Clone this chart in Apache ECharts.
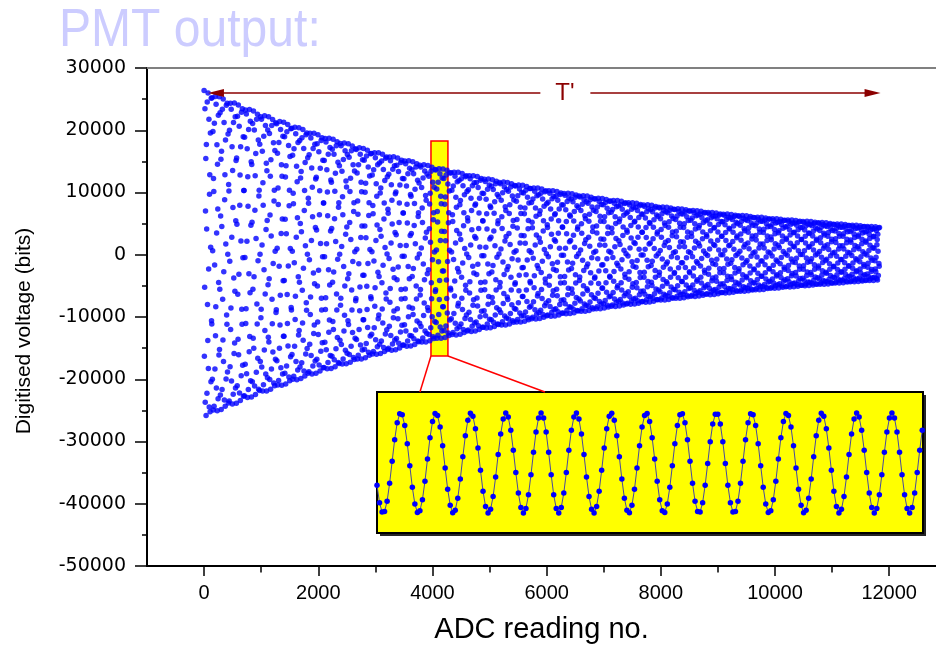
<!DOCTYPE html>
<html>
<head>
<meta charset="utf-8">
<script src="https://cdn.jsdelivr.net/npm/echarts@6/dist/echarts.min.js"></script>
<style>
  html, body { margin: 0; padding: 0; background: #fff; }
  #main { width: 936px; height: 647px; }
</style>
</head>
<body>
<div id="main"></div>
<script>
// ---- values ----
// half-height of the decaying band (bits) at some ADC readings
const envX = [0, 1000, 2000, 3000, 4000, 5000, 6000, 7000, 8000, 9000, 10000, 11000, 11830];
const envAmp = [26200, 22400, 19100, 16300, 13950, 11950, 10250, 8800, 7550, 6500, 5600, 4850, 4250];
const envOffset = 200;          // band centre sits a bit above 0
const periodSamples = 13.95;    // readings per oscillation
const plotStep = 5;             // every 5th reading is plotted in the main panel
const lastReading = 11830;

// axis ticks
const xMajorTicks = [0, 2000, 4000, 6000, 8000, 10000, 12000];
const xMinorTicks = [1000, 3000, 5000, 7000, 9000, 11000];

// zoom window (yellow bar) and the inset
const zoomBox = [[3974, 18270], [4271, -16260]];
const insetTop = -22050;
const insetLinkX = [3781, 5970];
const insetPeriod = 13.9;
const insetFirstPeak = 9.4;     // sample index of first peak in the inset
const insetCount = 217;

// T' arrow
const arrowY = 25980;
const arrowLeft = [5890, 208];
const arrowRight = [6766, 11709];
const arrowLabelX = 6320;

function envAt(x) {
  for (let i = 1; i < envX.length; i++) {
    if (x <= envX[i]) {
      const t = (x - envX[i - 1]) / (envX[i] - envX[i - 1]);
      return envAmp[i - 1] + t * (envAmp[i] - envAmp[i - 1]);
    }
  }
  return envAmp[envAmp.length - 1];
}

// sampled readings for the main panel
const mainPoints = [];
for (let x = 0; x <= lastReading; x += plotStep) {
  mainPoints.push([x, envOffset + envAt(x) * Math.cos(2 * Math.PI * x / periodSamples)]);
}
// inset: consecutive readings, normalised
const insetPoints = [];
for (let n = 0; n < insetCount; n++) {
  insetPoints.push([n, Math.cos(2 * Math.PI * (n - insetFirstPeak) / insetPeriod)]);
}

const chart = echarts.init(document.getElementById('main'));
const fmt = v => String(v);
const insetBox = { left: 377, top: 392, width: 546, height: 141 };

chart.setOption({
  animation: false,
  backgroundColor: '#fff',
  grid: [
    { left: 147, top: 68, right: 0, bottom: 81, containLabel: false, outerBoundsMode: 'none' },
    {
      left: insetBox.left, top: insetBox.top, width: insetBox.width, height: insetBox.height, show: true,
      backgroundColor: '#ffff00', borderColor: '#000', borderWidth: 2, z: 1,
      outerBoundsMode: 'none'
    }
  ],
  xAxis: [
    {
      type: 'value', gridIndex: 0, min: -1000, max: 12820, position: 'bottom',
      axisLine: { onZero: false, lineStyle: { color: '#000', width: 2 } },
      axisTick: { customValues: xMajorTicks, length: 10, lineStyle: { color: '#000', width: 1.5 } },
      axisLabel: { customValues: xMajorTicks, formatter: fmt, margin: 17, fontSize: 20,
        fontFamily: '"Liberation Sans", Arial, sans-serif', color: '#000' },
      splitLine: { show: false },
      name: 'ADC reading no.', nameLocation: 'middle', nameGap: 49,
      nameTextStyle: { fontSize: 29, fontFamily: '"Liberation Sans", Arial, sans-serif', color: '#000' }
    },
    {
      type: 'value', gridIndex: 0, min: -1000, max: 12820, position: 'bottom',
      axisLine: { show: false, onZero: false },
      axisTick: { customValues: xMinorTicks, length: 6.5, lineStyle: { color: '#000', width: 1.5 } },
      axisLabel: { show: false },
      splitLine: { show: false }
    },
    {
      type: 'value', gridIndex: 0, min: -1000, max: 12820, position: 'top',
      axisLine: { onZero: false, lineStyle: { color: '#808080', width: 2 } },
      axisTick: { show: false }, axisLabel: { show: false }, splitLine: { show: false }
    },
    { type: 'value', gridIndex: 1, min: 0, max: 216.3, show: false }
  ],
  yAxis: [
    {
      type: 'value', gridIndex: 0, min: -50000, max: 30000, interval: 10000,
      axisLine: { show: true, onZero: false, lineStyle: { color: '#000', width: 2 } },
      axisTick: { show: true, length: 12, lineStyle: { color: '#000', width: 1.5 } },
      minorTick: { show: true, splitNumber: 2, length: 5, lineStyle: { color: '#000', width: 1.5 } },
      axisLabel: { formatter: fmt, margin: 21, fontSize: 19,
        fontFamily: '"DejaVu Sans", Arial, sans-serif', color: '#000' },
      splitLine: { show: false }
    },
    { type: 'value', gridIndex: 1, min: -1.4, max: 1.42, show: false }
  ],
  graphic: [
    {
      type: 'text', x: 59, y: 4, scaleX: 0.89,
      style: { text: 'PMT output:', fontSize: 54, fontFamily: '"Liberation Sans", Arial',
        fill: '#ccccff', verticalAlign: 'top', textVerticalAlign: 'top' }
    },
    {
      type: 'text', x: 24, y: 331, rotation: Math.PI / 2,
      style: { text: 'Digitised voltage (bits)', fontSize: 21, fontFamily: '"Liberation Sans", Arial',
        fill: '#000', align: 'center', verticalAlign: 'middle', textAlign: 'center', textVerticalAlign: 'middle' }
    },
    {
      // drop shadow of the inset frame
      type: 'rect', z: 0, silent: true,
      shape: { x: insetBox.left + 3, y: insetBox.top + 3, width: insetBox.width, height: insetBox.height },
      style: { fill: '#262626' }
    }
  ],
  series: [
    {
      type: 'scatter', xAxisIndex: 0, yAxisIndex: 0, data: mainPoints,
      symbolSize: 5.5, itemStyle: { color: '#0000ff' }, progressive: 0, silent: true,
      markArea: {
        silent: true,
        itemStyle: { color: '#ffff00', borderColor: '#ff0000', borderWidth: 1.5 },
        data: [[{ coord: zoomBox[0] }, { coord: zoomBox[1] }]]
      },
      markLine: {
        silent: true, symbol: 'none', label: { show: false },
        lineStyle: { color: '#ff0000', width: 1.5, type: 'solid' },
        data: [
          [{ coord: [zoomBox[0][0], zoomBox[1][1]] }, { coord: [insetLinkX[0], insetTop] }],
          [{ coord: [zoomBox[1][0], zoomBox[1][1]] }, { coord: [insetLinkX[1], insetTop] }]
        ]
      }
    },
    {
      type: 'line', xAxisIndex: 0, yAxisIndex: 0, data: [], silent: true,
      markLine: {
        silent: true, label: { show: false },
        lineStyle: { color: '#8b0000', width: 1.5, type: 'solid' },
        data: [
          [{ coord: [arrowLeft[0], arrowY], symbol: 'none' },
           { coord: [arrowLeft[1], arrowY], symbol: 'triangle', symbolSize: [8, 16] }],
          [{ coord: [arrowRight[0], arrowY], symbol: 'none' },
           { coord: [arrowRight[1], arrowY], symbol: 'triangle', symbolSize: [8, 16] }]
        ]
      },
      markPoint: {
        silent: true, symbol: 'circle', symbolSize: 0,
        label: { show: true, position: 'inside', formatter: "T'", fontSize: 24,
          fontFamily: '"Liberation Sans", Arial', color: '#8b0000' },
        data: [{ coord: [arrowLabelX, arrowY] }]
      }
    },
    {
      type: 'line', xAxisIndex: 3, yAxisIndex: 1, data: insetPoints, silent: true, z: 3,
      symbol: 'circle', symbolSize: 5.5, showAllSymbol: true,
      lineStyle: { color: '#4848a0', width: 1 },
      itemStyle: { color: '#0000ff' }
    }
  ]
});
</script>
</body>
</html>
